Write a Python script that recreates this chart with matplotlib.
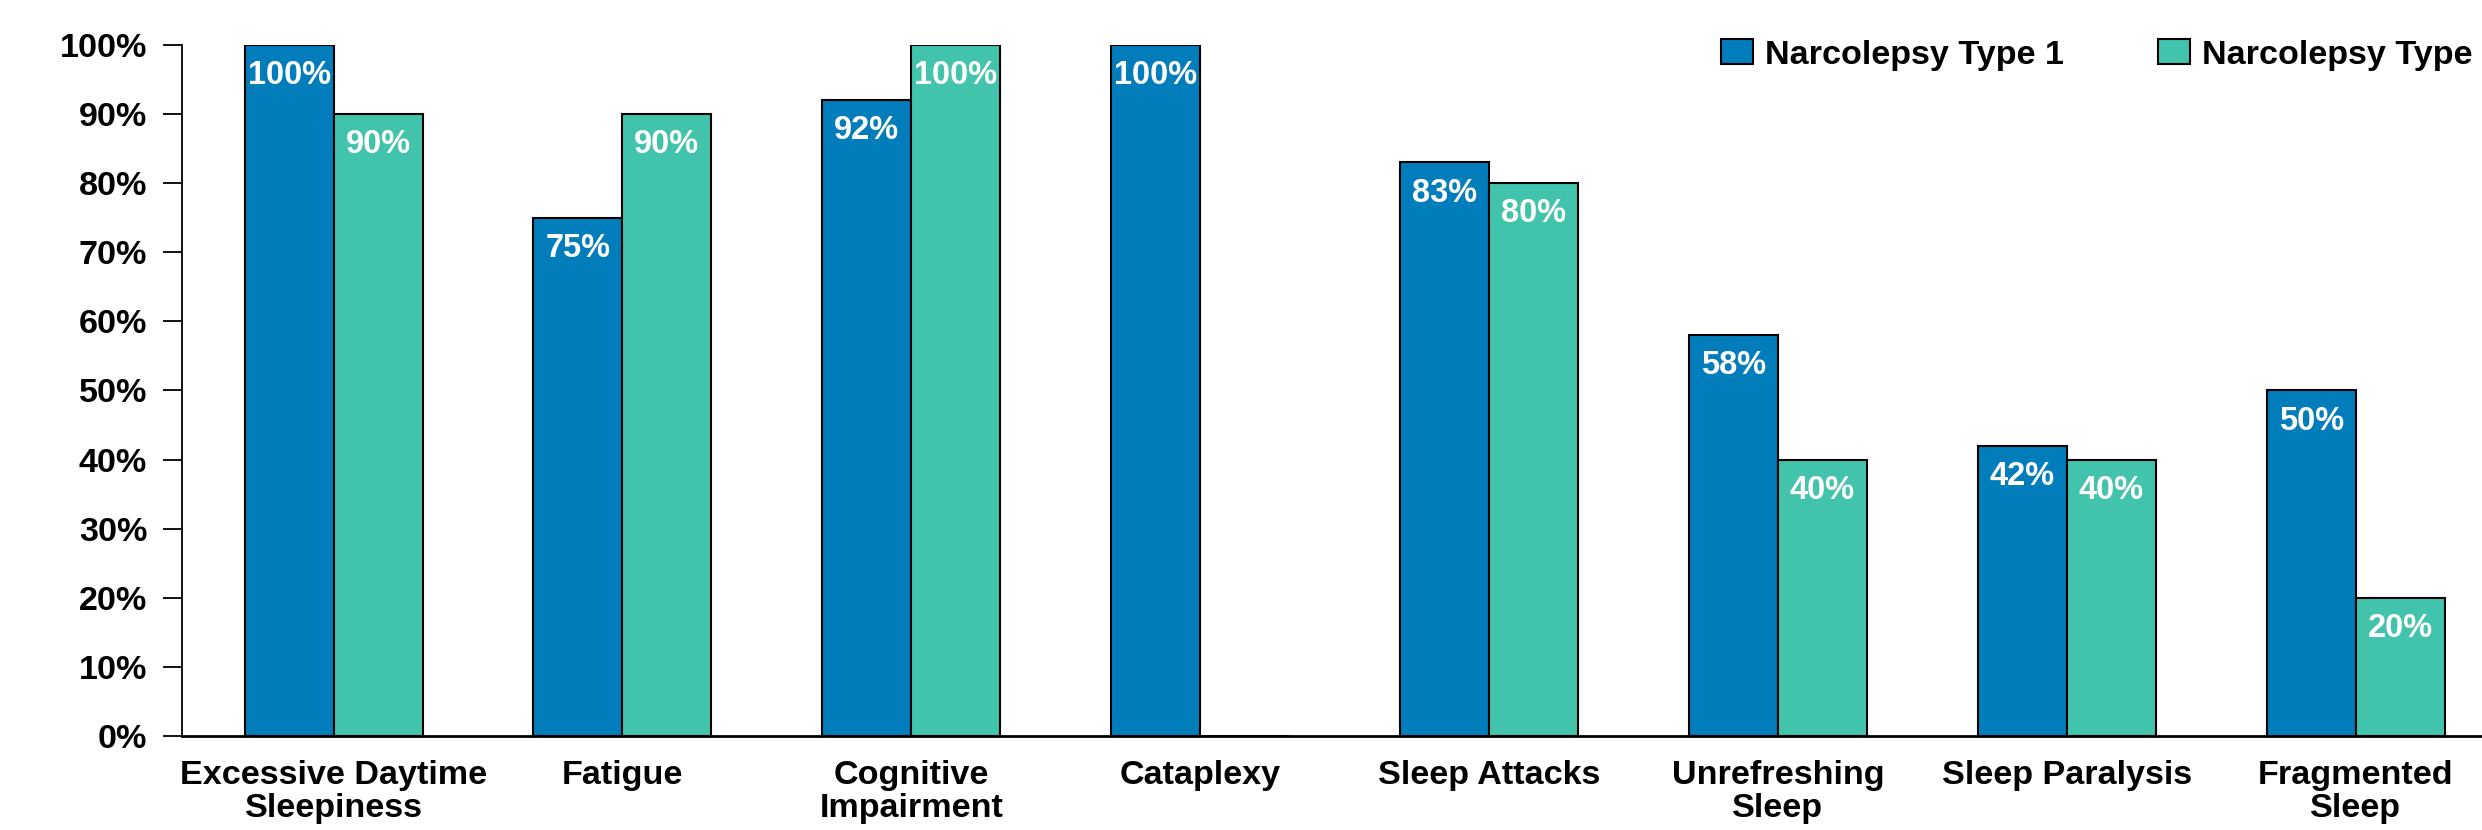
import matplotlib.pyplot as plt
import numpy as np

plt.rcParams['font.family'] = ['Liberation Sans', 'DejaVu Sans']
plt.rcParams['font.weight'] = 'bold'

categories = ["Excessive Daytime\nSleepiness", "Fatigue", "Cognitive\nImpairment", "Cataplexy",
              "Sleep Attacks", "Unrefreshing\nSleep", "Sleep Paralysis", "Fragmented\nSleep"]
type1 = [100, 75, 92, 100, 83, 58, 42, 50]
type2 = [90, 90, 100, 0, 80, 40, 40, 20]
series_names = ["Narcolepsy Type 1", "Narcolepsy Type 2"]
yticks = [0, 10, 20, 30, 40, 50, 60, 70, 80, 90, 100]

blue = '#027DBB'
green = '#42C3AB'

fig = plt.figure(figsize=(24.82, 8.30), dpi=100)
ax = fig.add_axes([0.0733, 0.1133, 0.9456, 0.8325])

x = np.arange(len(categories))
w = 0.308
b1 = ax.bar(x - w/2, type1, w, color=blue, edgecolor='black', linewidth=1.5, label=series_names[0])
b2 = ax.bar(x + w/2, type2, w, color=green, edgecolor='black', linewidth=1.5, label=series_names[1])

# value labels inside the top of each bar
for bars, vals in [(b1, type1), (b2, type2)]:
    for rect, v in zip(bars, vals):
        if v == 0:
            continue
        ax.annotate(f"{v}%", (rect.get_x() + rect.get_width()/2, v),
                    xytext=(0, -22), textcoords='offset points',
                    ha='center', va='center', color='white', fontsize=23.5, fontweight='bold')

ax.set_xlim(-0.525, 7.6)
ax.set_ylim(0, 100)
ax.set_yticks(yticks)
ax.set_yticklabels([f"{t}%" for t in yticks])
ax.set_xticks(x)
ax.set_xticklabels(categories, linespacing=1.1)
ax.tick_params(axis='y', length=14, width=1.3, pad=11, labelsize=24.6)
ax.tick_params(axis='x', length=0, pad=17, labelsize=24.6)

for s in ['top', 'right']:
    ax.spines[s].set_visible(False)
ax.spines['left'].set_linewidth(1.3)
ax.spines['bottom'].set_linewidth(2)

fig.legend(loc='center left', bbox_to_anchor=(0.6934, 0.9337), ncol=2, frameon=False,
           fontsize=24.6, borderpad=0, borderaxespad=0, handlelength=0.94, handleheight=0.73,
           handletextpad=0.35, columnspacing=2.75)

fig.savefig('out.png', dpi=100)
